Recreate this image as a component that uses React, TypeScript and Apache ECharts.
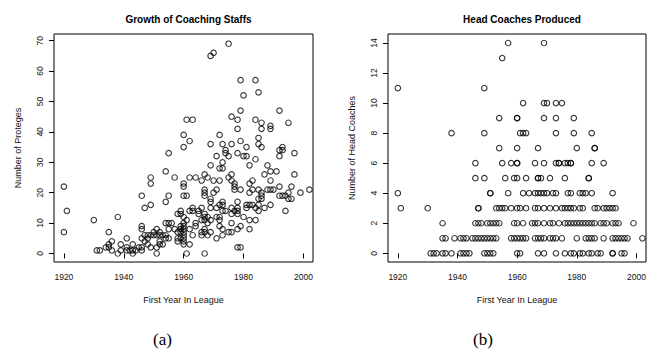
import React, { useEffect, useRef } from "react";
import * as echarts from "echarts";

const leftTitle = "Growth of Coaching Staffs";
const rightTitle = "Head Coaches Produced";
const xAxisTitle = "First Year In League";
const leftYTitle = "Number of Proteges";
const rightYTitle = "Number of Head Coaches";

const yearTicks = [1920, 1940, 1960, 1980, 2000];
const protegeTicks = [0, 10, 20, 30, 40, 50, 60, 70];
const coachTicks = [0, 2, 4, 6, 8, 10, 12, 14];

// [first year in league, number of proteges]
const protegePoints: [number, number][] = [
  [1920, 22], [1920, 7], [1921, 14], [1930, 11], [1931, 1], [1932, 1], [1934, 2], [1935, 7], [1935, 3], [1935, 2],
  [1936, 4], [1936, 1], [1938, 12], [1938, 0], [1939, 3], [1939, 1], [1941, 5], [1941, 2], [1941, 1], [1942, 1],
  [1943, 1], [1943, 0], [1943, 3], [1944, 1], [1945, 2],
  [1946, 19], [1946, 9], [1946, 8], [1946, 5], [1946, 2], [1946, 1], [1947, 15], [1947, 6], [1947, 4], [1948, 6],
  [1948, 5], [1948, 3], [1949, 25], [1949, 23], [1949, 16], [1949, 6], [1949, 2],
  [1950, 7], [1950, 6], [1951, 8], [1951, 6], [1951, 2], [1951, 0], [1952, 7], [1952, 6], [1952, 4], [1952, 3],
  [1953, 6], [1953, 3], [1954, 27], [1954, 17], [1954, 10], [1954, 6], [1954, 5], [1955, 33], [1955, 19], [1955, 10],
  [1955, 8], [1955, 5],
  [1956, 10], [1957, 25], [1957, 8], [1958, 13], [1958, 7], [1958, 5], [1958, 4], [1959, 14], [1959, 13], [1959, 9],
  [1959, 8], [1959, 7], [1959, 5],
  [1960, 39], [1960, 35], [1960, 23], [1960, 22], [1960, 19], [1960, 12], [1960, 10], [1960, 9], [1960, 8], [1960, 7],
  [1960, 6], [1960, 5], [1960, 4], [1960, 3],
  [1961, 44], [1961, 19], [1961, 11], [1961, 0], [1962, 37], [1962, 25], [1962, 14], [1962, 8], [1962, 3], [1963, 44],
  [1963, 15], [1963, 14], [1963, 6], [1964, 25], [1964, 10], [1964, 9], [1965, 14], [1965, 13],
  [1966, 24], [1966, 15], [1966, 11], [1966, 7], [1966, 6], [1967, 26], [1967, 21], [1967, 20], [1967, 19], [1967, 13],
  [1967, 12], [1967, 11], [1967, 8], [1967, 7], [1967, 0], [1968, 25], [1968, 12], [1968, 10], [1968, 6],
  [1969, 65], [1969, 36], [1969, 29], [1969, 18], [1969, 17], [1969, 15], [1969, 11], [1969, 7], [1970, 66], [1970, 24],
  [1970, 20], [1971, 32], [1971, 21], [1971, 15], [1971, 12], [1971, 5],
  [1972, 39], [1972, 28], [1972, 24], [1972, 16], [1972, 12], [1972, 11], [1972, 9], [1973, 36], [1973, 30], [1973, 28],
  [1973, 17], [1973, 16], [1973, 14], [1973, 8], [1973, 6], [1974, 34], [1974, 33], [1974, 14],
  [1975, 69], [1975, 32], [1975, 25], [1975, 7], [1976, 45], [1976, 36], [1976, 26], [1976, 24], [1976, 15], [1976, 13],
  [1976, 10], [1976, 7], [1977, 23], [1977, 22], [1977, 21], [1977, 14],
  [1978, 44], [1978, 41], [1978, 33], [1978, 17], [1978, 15], [1978, 14], [1978, 13], [1978, 8], [1978, 2], [1979, 57],
  [1979, 47], [1979, 37], [1979, 21], [1979, 9], [1979, 2], [1980, 52], [1980, 32], [1980, 12],
  [1981, 35], [1981, 32], [1981, 16], [1981, 15], [1982, 29], [1982, 23], [1982, 20], [1982, 16], [1982, 11], [1982, 8],
  [1983, 24], [1983, 21], [1983, 16], [1984, 57], [1984, 44], [1984, 31], [1984, 15], [1984, 11],
  [1985, 53], [1985, 38], [1985, 36], [1985, 21], [1985, 18], [1985, 16], [1985, 14], [1986, 43], [1986, 41], [1986, 35],
  [1986, 20], [1986, 19], [1986, 18], [1987, 26], [1987, 15], [1988, 29], [1988, 21],
  [1989, 42], [1989, 41], [1989, 27], [1989, 24], [1989, 21], [1989, 16], [1990, 21], [1991, 27], [1992, 47], [1992, 34],
  [1992, 32], [1992, 22], [1992, 19], [1993, 35], [1993, 34], [1993, 19], [1994, 19], [1994, 14],
  [1995, 43], [1995, 20], [1995, 18], [1996, 22], [1996, 18], [1997, 33], [1997, 26], [1999, 20], [2002, 21],
];

// years of coaches, grouped by number of head coaches produced (index = count)
const coachYears0 = [1931, 1932, 1933, 1935, 1936, 1938, 1941, 1942, 1943, 1944, 1949, 1950, 1951, 1952, 1960, 1961, 1967, 1969, 1973, 1976, 1978, 1979, 1981, 1982, 1984, 1985, 1987, 1988, 1992, 1992, 1995, 1996];
const coachYears1 = [1935, 1936, 1939, 1941, 1942, 1943, 1945, 1946, 1947, 1948, 1949, 1950, 1951, 1952, 1953, 1958, 1959, 1960, 1961, 1962, 1963, 1966, 1967, 1968, 1969, 1971, 1972, 1973, 1975, 1980, 1983, 1984, 1985, 1986, 1989, 1992, 1993, 1994, 1995, 1996, 1997, 2002];
const coachYears2 = [1935, 1946, 1947, 1948, 1950, 1951, 1952, 1953, 1954, 1959, 1960, 1962, 1965, 1966, 1967, 1969, 1971, 1972, 1974, 1976, 1977, 1978, 1979, 1980, 1981, 1982, 1983, 1984, 1985, 1986, 1988, 1989, 1990, 1992, 1993, 1994, 1999];
const coachYears3 = [1921, 1930, 1947, 1947, 1953, 1954, 1955, 1956, 1958, 1960, 1961, 1963, 1966, 1967, 1969, 1971, 1973, 1975, 1976, 1977, 1978, 1979, 1981, 1982, 1986, 1987, 1989, 1990, 1991, 1992, 1993];
const coachYears4 = [1920, 1951, 1951, 1957, 1962, 1964, 1966, 1967, 1968, 1969, 1970, 1972, 1973, 1977, 1978, 1981, 1982, 1983, 1985, 1992];
const coachYears5 = [1946, 1949, 1956, 1959, 1960, 1963, 1967, 1967, 1968, 1971, 1976, 1984, 1984];
const coachYears6 = [1946, 1955, 1958, 1960, 1960, 1966, 1969, 1973, 1974, 1974, 1976, 1977, 1978, 1978, 1985, 1989];
const coachYears7 = [1954, 1960, 1967, 1980, 1986, 1986];
const coachYears8 = [1938, 1949, 1961, 1962, 1963, 1973, 1979, 1985];
const coachYears9 = [1954, 1960, 1960, 1969, 1973, 1979];
const coachYears10 = [1962, 1969, 1970, 1973, 1975];
const coachYears11 = [1920, 1949];
const coachYears12: number[] = [];
const coachYears13 = [1955];
const coachYears14 = [1957, 1969];

const coachRows = [
  coachYears0, coachYears1, coachYears2, coachYears3, coachYears4, coachYears5, coachYears6, coachYears7,
  coachYears8, coachYears9, coachYears10, coachYears11, coachYears12, coachYears13, coachYears14,
];

const FONT = "'Liberation Sans', Arial, Helvetica, sans-serif";

export default function App() {
  const ref = useRef<HTMLDivElement>(null);

  useEffect(() => {
    if (!ref.current) return;
    const chart = echarts.init(ref.current, undefined, { renderer: "svg" });

    const coachData: [number, number][] = [];
    coachRows.forEach((years, count) => years.forEach((y) => coachData.push([y, count])));

    const tickLabel = {
      fontFamily: FONT,
      fontSize: 8.5,
      color: "#111",
      formatter: (v: number) => String(Math.round(v)),
    };

    const xAxis = (gridIndex: number) => ({
      type: "value" as const,
      gridIndex,
      min: 1916.7,
      max: 2003.2,
      splitLine: { show: false },
      axisLine: { show: false },
      axisTick: { show: true, inside: false, length: 5, customValues: yearTicks, lineStyle: { color: "#000", width: 1 } },
      axisLabel: { ...tickLabel, margin: 10, customValues: yearTicks, showMinLabel: true, showMaxLabel: true },
      name: xAxisTitle,
      nameLocation: "middle" as const,
      nameGap: 33,
      nameTextStyle: { fontFamily: FONT, fontSize: 9, color: "#111" },
    });

    const yAxis = (gridIndex: number, min: number, max: number, ticks: number[], name: string) => ({
      type: "value" as const,
      gridIndex,
      min,
      max,
      splitLine: { show: false },
      axisLine: { show: false },
      axisTick: { show: true, inside: false, length: 5, customValues: ticks, lineStyle: { color: "#000", width: 1 } },
      axisLabel: { ...tickLabel, margin: 10, rotate: 90, customValues: ticks },
      name,
      nameLocation: "middle" as const,
      nameGap: 32,
      nameTextStyle: { fontFamily: FONT, fontSize: 9, color: "#111" },
    });

    const symbolStyle = { color: "rgba(0,0,0,0)", borderColor: "#000", borderWidth: 1.1 };

    chart.setOption({
      animation: false,
      backgroundColor: "#fff",
      title: [
        {
          text: leftTitle,
          left: 183.5,
          top: 9,
          textAlign: "center",
          textStyle: { fontFamily: FONT, fontSize: 10, fontWeight: "bold", color: "#000" },
        },
        {
          text: rightTitle,
          left: 517,
          top: 9,
          textAlign: "center",
          textStyle: { fontFamily: FONT, fontSize: 10, fontWeight: "bold", color: "#000" },
        },
      ],
      grid: [
        { left: 54, top: 34, width: 259, height: 228, show: true, borderColor: "#000", borderWidth: 1, backgroundColor: "transparent" },
        { left: 388, top: 34, width: 258, height: 228, show: true, borderColor: "#000", borderWidth: 1, backgroundColor: "transparent" },
      ],
      xAxis: [xAxis(0), xAxis(1)],
      yAxis: [
        yAxis(0, -2.8, 72.2, protegeTicks, leftYTitle),
        yAxis(1, -0.58, 14.6, coachTicks, rightYTitle),
      ],
      series: [
        {
          type: "scatter",
          xAxisIndex: 0,
          yAxisIndex: 0,
          data: protegePoints,
          symbol: "circle",
          symbolSize: 5.5,
          itemStyle: symbolStyle,
        },
        {
          type: "scatter",
          xAxisIndex: 1,
          yAxisIndex: 1,
          data: coachData,
          symbol: "circle",
          symbolSize: 5.5,
          itemStyle: symbolStyle,
        },
      ],
      graphic: [
        {
          type: "text",
          left: 153,
          top: 331,
          style: { text: "(a)", font: "17px 'Liberation Serif', 'Times New Roman', serif", fill: "#000" },
        },
        {
          type: "text",
          left: 473,
          top: 331,
          style: { text: "(b)", font: "17px 'Liberation Serif', 'Times New Roman', serif", fill: "#000" },
        },
      ],
    });

    return () => chart.dispose();
  }, []);

  return (
    <div
      ref={ref}
      style={{ position: "fixed", left: 0, top: 0, width: 649, height: 356, background: "#fff" }}
    />
  );
}
